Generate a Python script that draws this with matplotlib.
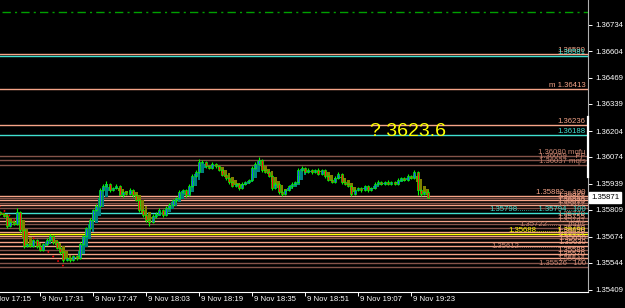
import matplotlib
matplotlib.use('Agg')
import matplotlib.pyplot as plt
import matplotlib.transforms as mtransforms
from matplotlib.patches import Rectangle

plt.rcParams['font.family'] = ['Liberation Sans', 'DejaVu Sans']

# 1 minute bars from 9 Nov 17:19, prices in points (1e-5)
first_open = 135799
closes = [
    135789, 135779, 135729, 135749, 135739, 135799, 135709, 135629, 135639, 135629,
    135659, 135629, 135609, 135639, 135659, 135679, 135649, 135619, 135599, 135559,
    135569, 135559, 135579, 135569, 135639, 135679, 135719, 135759, 135809, 135829,
    135909, 135929, 135939, 135909, 135919, 135929, 135884, 135899, 135889, 135909,
    135884, 135859, 135809, 135784, 135759, 135749, 135779, 135789, 135809, 135784,
    135819, 135834, 135859, 135869, 135899, 135909, 135884, 135929, 135979, 135999,
    136049, 136049, 136029, 136019, 136039, 136029, 136009, 135984, 135969, 135949,
    135929, 135939, 135919, 135939, 135949, 135959, 136019, 136039, 136059, 136009,
    135999, 135979, 135919, 135939, 135899, 135889, 135909, 135929, 135939, 135949,
    136009, 136019, 135999, 136009, 135999, 136009, 135989, 136009, 135979, 135959,
    135949, 135969, 135989, 135949, 135939, 135929, 135889, 135909, 135919, 135909,
    135929, 135909, 135919, 135939, 135949, 135939, 135949, 135939, 135949, 135939,
    135959, 135969, 135959, 135979, 135969, 135999, 135909, 135889, 135899, 135871,
]
upper_wick = [
    5, 4, 3, 6, 5, 20, 4, 3, 5, 4, 6, 3, 4, 5, 8, 10, 4, 3, 5, 4,
    6, 3, 5, 4, 8, 6, 5, 8, 6, 10, 12, 8, 15, 6, 5, 8, 4, 6, 5, 10,
    4, 5, 3, 4, 5, 6, 10, 8, 12, 6, 8, 10, 5, 6, 8, 5, 4, 10, 12, 8,
    15, 10, 6, 5, 8, 4, 6, 5, 4, 3, 5, 6, 4, 8, 5, 6, 10, 8, 15, 5,
    4, 5, 3, 8, 4, 5, 6, 5, 8, 4, 10, 12, 6, 8, 5, 6, 8, 6, 5, 4,
    5, 8, 10, 4, 5, 3, 4, 6, 5, 4, 6, 4, 5, 8, 10, 6, 4, 8, 5, 6,
    8, 5, 6, 8, 5, 10, 4, 3, 5, 8,
]
lower_wick = [
    6, 5, 8, 4, 6, 5, 8, 10, 5, 6, 4, 8, 6, 5, 4, 6, 8, 5, 10, 8,
    6, 12, 5, 8, 4, 5, 3, 4, 6, 5, 4, 6, 5, 8, 4, 6, 5, 8, 6, 5,
    8, 6, 10, 8, 12, 20, 6, 8, 5, 10, 6, 5, 4, 8, 6, 5, 8, 4, 5, 6,
    4, 6, 8, 5, 6, 8, 5, 6, 8, 10, 6, 5, 8, 6, 5, 4, 6, 5, 4, 8,
    6, 5, 10, 6, 8, 12, 6, 5, 8, 4, 5, 6, 4, 5, 8, 6, 5, 4, 8, 6,
    5, 6, 4, 8, 6, 5, 12, 6, 5, 8, 6, 8, 5, 4, 6, 5, 4, 6, 5, 4,
    6, 5, 4, 6, 5, 4, 25, 10, 6, 4,
]

# horizontal levels drawn by the indicators
level_prices = [
    1.36589, 1.36579, 1.36414, 1.36234, 1.36184, 1.36079, 1.36059, 1.36034,
    1.35879, 1.35869, 1.35859, 1.35844, 1.35834, 1.35819, 1.35794, 1.35769,
    1.35754, 1.35739, 1.35719, 1.35699, 1.35689, 1.35679, 1.35669, 1.35649,
    1.35629, 1.35609, 1.35589, 1.35569, 1.35544, 1.35524,
]
level_kinds = [
    'zone', 'pivot', 'zone', 'zone', 'pivot', 'fib', 'fib', 'fib',
    'zone', 'fib', 'zone', 'fib', 'zone', 'fib', 'pivot', 'fib',
    'zone', 'fib', 'fib', 'zone', 'mid', 'zone', 'fib', 'zone',
    'zone', 'fib', 'zone', 'zone', 'fib', 'fib',
]
level_labels = [
    '1.36590', '1.36581', 'm 1.36413', '1.36236', '1.36188', '1.36080 mqfu', '1.36059    PP', '1.36037 mqfs',
    '1.35882    100', '1.35870', '1.35861', '1.35846', '1.35833', '1.35817',
    '1.35798..........1.35794...100', '1.35770',
    '1.35755', '1.35741', '1.35722..........mqfs', '1.35700',
    '1.35688..........1.35690', '1.35679', '1.35667', '1.35650',
    '1.35630', '1.35612...............................', '1.35588', '1.35570', '1.35546', '1.35526   100',
]

ma_price = 1.36799
trend_bars = [-1, 20]
trend_prices = [1.35839, 1.35514]

price_ticks = [1.36869, 1.36734, 1.36604, 1.36469, 1.36339, 1.36204, 1.36074,
               1.35939, 1.35809, 1.35674, 1.35544, 1.35409]
time_bars = [-4, 12, 28, 44, 60, 76, 92, 108, 124]
time_labels = ['9 Nov 17:15', '9 Nov 17:31', '9 Nov 17:47', '9 Nov 18:03', '9 Nov 18:19',
               '9 Nov 18:35', '9 Nov 18:51', '9 Nov 19:07', '9 Nov 19:23']
last_price = 1.35871
target_text = '? 3623.6'

kind_colors = {'zone': '#f6a488', 'fib': '#85544a', 'pivot': '#40e0d0', 'mid': '#ffff00'}
label_colors = {'zone': '#f6a488', 'fib': '#c88470', 'pivot': '#40e0d0', 'mid': '#ffff00'}

fig = plt.figure(figsize=(6.25, 3.08), dpi=100, facecolor='black')
ax = fig.add_axes([0, 16 / 308, 588 / 625, 292 / 308])
ax.set_facecolor('black')
ax.set_xlim(-0.1, 177.4)
ax.set_ylim(1.35399, 1.36859)

fs = 5.6
tr = mtransforms.blended_transform_factory(ax.transAxes, ax.transData)

# level lines with their labels
for p, k, lab in zip(level_prices, level_kinds, level_labels):
    ax.axhline(p, color=kind_colors[k], lw=1.0, zorder=1)
    ax.text(0.996, p + 0.000012, lab, transform=tr, ha='right', va='bottom',
            color=label_colors[k], fontsize=fs, zorder=2)

ax.axhline(ma_price, xmin=0.003, color='#00a000', lw=1.0,
           linestyle=(0, (6, 3, 1.5, 3)), zorder=1)
ax.plot(trend_bars, trend_prices, color='red', lw=1.2, linestyle=(0, (1, 3)), zorder=2)

# candles + heiken ashi
opens = [first_open] + closes[:-1]
o = [v / 1e5 for v in opens]
c = [v / 1e5 for v in closes]
h = [max(a, b) + u / 1e5 for a, b, u in zip(o, c, upper_wick)]
l = [min(a, b) - d / 1e5 for a, b, d in zip(o, c, lower_wick)]

ha_o, ha_c = [], []
for i in range(len(c)):
    hc = (o[i] + h[i] + l[i] + c[i]) / 4
    ho = (o[i] + c[i]) / 2 if i == 0 else (ha_o[-1] + ha_c[-1]) / 2
    ha_o.append(ho)
    ha_c.append(hc)

for i in range(len(c)):
    hb = min(ha_o[i], ha_c[i])
    hh = max(abs(ha_c[i] - ha_o[i]), 0.00002)
    hcol = '#008080' if ha_c[i] >= ha_o[i] else '#808000'
    ax.add_patch(Rectangle((i - 0.42, hb), 0.84, hh, facecolor=hcol, edgecolor='none', zorder=3))
    ax.vlines(i, l[i], h[i], color='#00ff00', lw=0.8, zorder=4)
    bb = min(o[i], c[i])
    bh = max(abs(c[i] - o[i]), 0.00002)
    fcol = '#1e50ff' if c[i] >= o[i] else '#ff1010'
    ax.add_patch(Rectangle((i - 0.3, bb), 0.6, bh, facecolor=fcol, edgecolor='#00ff00',
                           lw=0.5, zorder=5))

ax.text(370 / 588, 1 - 131 / 292, target_text, transform=ax.transAxes, color='#ffff00',
        fontsize=14, ha='left', va='center')

# axes
for s in ['top', 'left']:
    ax.spines[s].set_visible(False)
ax.spines['right'].set_color('#b0b0b0')
ax.spines['bottom'].set_color('white')
ax.yaxis.tick_right()
ax.set_yticks(price_ticks[1:])
ax.set_yticklabels(['%.5f' % t for t in price_ticks[1:]])
ax.tick_params(axis='y', colors='white', labelsize=fs, length=3, width=0.7, pad=2)
ax.text(1.012, price_ticks[0], '%.5f' % price_ticks[0], transform=tr, color='white',
        fontsize=fs, va='center', ha='left', clip_on=False)
ax.set_xticks(time_bars[1:])
ax.set_xticklabels([''] * (len(time_bars) - 1))
ax.tick_params(axis='x', colors='white', length=3, width=0.7)
for b, lab in zip(time_bars, time_labels):
    ax.text(b + 0.7, -0.015, lab, transform=ax.get_xaxis_transform(), color='white',
            fontsize=fs, ha='left', va='top', clip_on=False)

ax.plot([1, 1], [1.35974, 1.36274], transform=tr, color='white', lw=1.6, clip_on=False, zorder=6)
ax.text(1.005, last_price, '%.5f' % last_price, transform=tr, color='black', fontsize=fs,
        ha='left', va='center', zorder=7,
        bbox=dict(boxstyle='square,pad=0.25', facecolor='white', edgecolor='white'))

fig.savefig('out.png', dpi=100, facecolor='black')
